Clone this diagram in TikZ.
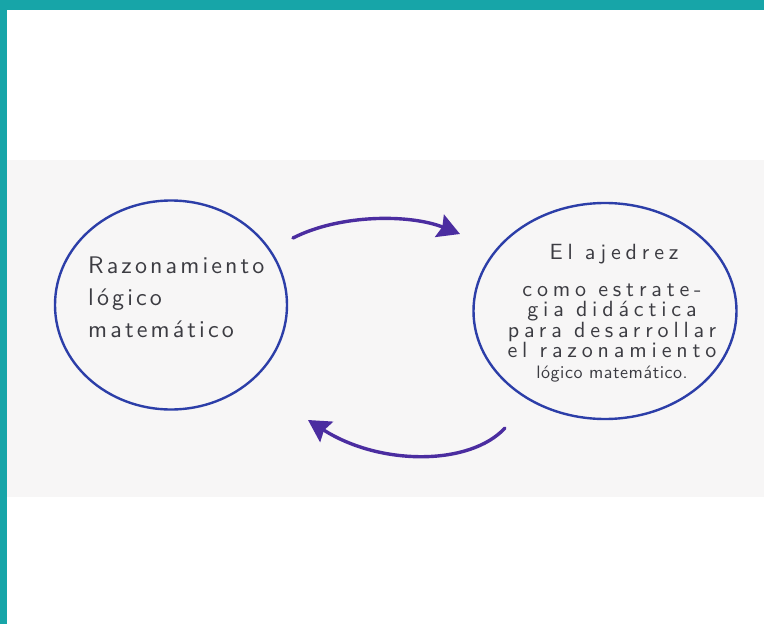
\documentclass[tikz,border=0pt]{standalone}
\usepackage{fontspec}
\usetikzlibrary{shapes.geometric}
\usetikzlibrary{arrows.meta}
\newfontfamily\handA[LetterSpace=13]{lmsans10-regular.otf}
\newfontfamily\handB[LetterSpace=22]{lmsans10-regular.otf}
\newfontfamily\handC[LetterSpace=3]{lmsans10-regular.otf}
\definecolor{marco}{RGB}{23,165,168}
\definecolor{papel}{RGB}{247,246,246}
\definecolor{tinta}{RGB}{44,62,168}
\definecolor{flecha}{RGB}{75,45,160}
\definecolor{lapiz}{RGB}{60,60,66}

\begin{document}
\begin{tikzpicture}[x=1pt, y=-1pt,
  circulo/.style={ellipse, draw=tinta, line width=2.4pt, inner sep=0pt},
  texto/.style={text=lapiz, inner sep=0pt},
  flechas/.style={draw=flecha, line width=3.4pt, line cap=round,
    -{Stealth[length=22pt, width=24pt, inset=3pt]}}]
\useasboundingbox (0,0) rectangle (764,624);

% hoja y marco
\fill[white] (0,0) rectangle (764,624);
\fill[papel] (7,160) rectangle (764,497);
\fill[marco] (0,0) rectangle (764,10);
\fill[marco] (0,0) rectangle (7,624);

\node[circulo, minimum width=232pt, minimum height=209pt] (razon) at (171,305) {};
\node[circulo, minimum width=263pt, minimum height=216pt] (ajedrez) at (605,311) {};

\node[texto, anchor=west, align=left, font=\handA\fontsize{24}{32}\selectfont]
  (razon-txt) at (88,297) {Razonamiento\\lógico\\matemático};

\node[texto, font=\handB\fontsize{22}{22}\selectfont] (ajedrez-tit) at (614,254) {El ajedrez};
\node[texto, align=center, font=\handB\fontsize{22}{20.5}\selectfont]
  (ajedrez-txt) at (612,333) {como estrate-\\gia didáctica\\para desarrollar\\el razonamiento\\{\handC\fontsize{18}{20}\selectfont lógico matemático.}};

% flechas
\coordinate (ida-ini) at (293,238);
\coordinate (ida-fin) at (460,234);
\coordinate (vuelta-ini) at (505,428);
\coordinate (vuelta-fin) at (308,420);

\draw[flechas] (ida-ini) .. controls (340,214) and (410,214) .. (ida-fin);
\draw[flechas] (vuelta-ini) .. controls (470,466) and (380,466) .. (vuelta-fin);

\end{tikzpicture}
\end{document}
